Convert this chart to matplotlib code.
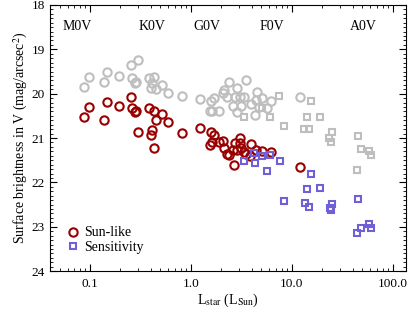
import matplotlib
matplotlib.use("Agg")
import matplotlib.pyplot as plt
from matplotlib.ticker import MultipleLocator, FixedLocator, LogLocator, NullFormatter
import numpy as np

plt.rcParams['font.family'] = ['Liberation Serif', 'DejaVu Serif']
plt.rcParams['mathtext.fontset'] = 'stix'

# Sun-like (red circles)
sun_L = [0.087, 0.098, 0.138, 0.147, 0.194, 0.255, 0.261, 0.279, 0.285, 0.299,
         0.384, 0.430, 0.450, 0.411, 0.402, 0.516, 0.592, 0.430, 0.814, 1.23,
         1.58, 1.69, 1.61, 1.54, 1.89, 2.07, 2.12, 2.27, 2.38, 2.61,
         2.73, 3.06, 3.06, 3.13, 2.85, 3.35, 3.51, 3.93, 4.40, 5.05,
         6.20, 2.67, 3.84, 12.0]
sun_mag = [20.53, 20.30, 20.59, 20.19, 20.28, 20.08, 20.32, 20.41, 20.39, 20.86,
           20.32, 20.39, 20.59, 20.82, 20.93, 20.46, 20.64, 21.23, 20.89, 20.77,
           20.86, 20.93, 21.09, 21.16, 21.09, 21.07, 21.23, 21.36, 21.38, 21.27,
           21.11, 21.00, 21.11, 21.23, 21.27, 21.32, 21.36, 21.14, 21.27, 21.29,
           21.32, 21.61, 21.41, 21.65]

# grey circles (upper set)
gc_L = [0.087, 0.098, 0.138, 0.147, 0.194, 0.255, 0.299, 0.261, 0.279, 0.285,
        0.384, 0.430, 0.411, 0.402, 0.450, 0.516, 0.592, 0.814, 1.23, 1.58,
        1.69, 1.54, 1.61, 1.89, 2.07, 2.12, 2.38, 2.85, 3.51, 2.27,
        2.61, 2.73, 3.06, 3.35, 3.13, 2.85, 3.93, 4.40, 4.50, 4.71,
        5.05, 5.65, 6.20, 4.30, 12.0]
gc_mag = [19.85, 19.62, 19.74, 19.51, 19.60, 19.35, 19.24, 19.65, 19.76, 19.74,
          19.65, 19.62, 19.76, 19.87, 19.89, 19.80, 19.99, 20.05, 20.12, 20.17,
          20.10, 20.39, 20.39, 20.39, 19.99, 19.92, 19.74, 19.87, 19.69, 20.08,
          20.28, 20.08, 20.08, 20.08, 20.28, 20.41, 20.23, 20.14, 19.96, 20.30,
          20.10, 20.32, 20.17, 20.48, 20.08]

# Sensitivity (blue squares)
sens_L = [3.35, 4.20, 4.30, 5.05, 6.06, 7.61, 5.65, 15.4, 14.1, 18.9,
          8.33, 13.4, 14.7, 24.9, 23.8, 24.3, 45.0, 57.8, 60.6, 48.2, 44.0]
sens_mag = [21.52, 21.34, 21.56, 21.41, 21.38, 21.52, 21.74, 21.81, 22.15, 22.13,
            22.42, 22.47, 22.56, 22.49, 22.58, 22.62, 22.38, 22.94, 23.03, 23.03, 23.14]

# grey squares (upper set)
gs_L = [7.44, 15.4, 3.35, 5.05, 6.06, 8.33, 14.1, 18.9, 13.1, 14.7,
        24.9, 23.3, 24.3, 45.0, 48.2, 57.8, 60.6, 44.0]
gs_mag = [20.05, 20.17, 20.53, 20.32, 20.53, 20.73, 20.53, 20.53, 20.80, 20.80,
          20.86, 21.00, 21.09, 20.96, 21.25, 21.29, 21.38, 21.72]

sptypes = ['M0V', 'K0V', 'G0V', 'F0V', 'A0V']
sp_L = [0.074, 0.41, 1.44, 6.3, 51.5]

red = '#990000'
blue = '#7060d8'
grey = '#bebebe'

fig = plt.figure(figsize=(4.15, 3.12), dpi=100)
ax = fig.add_axes([0.120, 0.131, 0.858, 0.853])

ax.plot(gc_L, gc_mag, 'o', ms=6, mfc='none', mec=grey, mew=1.5, ls='none')
ax.plot(gs_L, gs_mag, 's', ms=5, mfc='none', mec=grey, mew=1.5, ls='none')
ax.plot(sun_L, sun_mag, 'o', ms=6, mfc='none', mec=red, mew=1.5, ls='none', label='Sun-like')
ax.plot(sens_L, sens_mag, 's', ms=5, mfc='none', mec=blue, mew=1.5, ls='none', label='Sensitivity')

for s, l in zip(sptypes, sp_L):
    ax.text(l, 18.48, s, ha='center', va='center', fontsize=10)

ax.set_xscale('log')
ax.set_xlim(0.04, 135)
ax.set_ylim(24, 18)
ax.xaxis.set_major_locator(FixedLocator([0.1, 1, 10, 100]))
ax.set_xticklabels(['0.1', '1.0', '10.0', '100.0'])
ax.xaxis.set_minor_locator(LogLocator(base=10, subs=np.arange(2, 10)))
ax.xaxis.set_minor_formatter(NullFormatter())
ax.yaxis.set_major_locator(MultipleLocator(1))
ax.yaxis.set_minor_locator(MultipleLocator(0.1))
ax.tick_params(which='both', direction='in', top=True, right=True, labelsize=9.5)
ax.tick_params(which='major', length=5, width=0.8)
ax.tick_params(which='minor', length=2.5, width=0.6)
ax.tick_params(axis='x', pad=5)

ax.set_xlabel(r'L$_{\rm star}$ (L$_{\rm Sun}$)', fontsize=10, labelpad=1)
ax.set_ylabel(r'Surface brightness in V (mag/arcsec$^2$)', fontsize=10, labelpad=1)

ax.legend(loc='lower left', frameon=False, fontsize=10, handlelength=0.8,
          handletextpad=0.4, labelspacing=0.1, borderaxespad=0.95, borderpad=0.3)

fig.savefig('out.png', dpi=100)
